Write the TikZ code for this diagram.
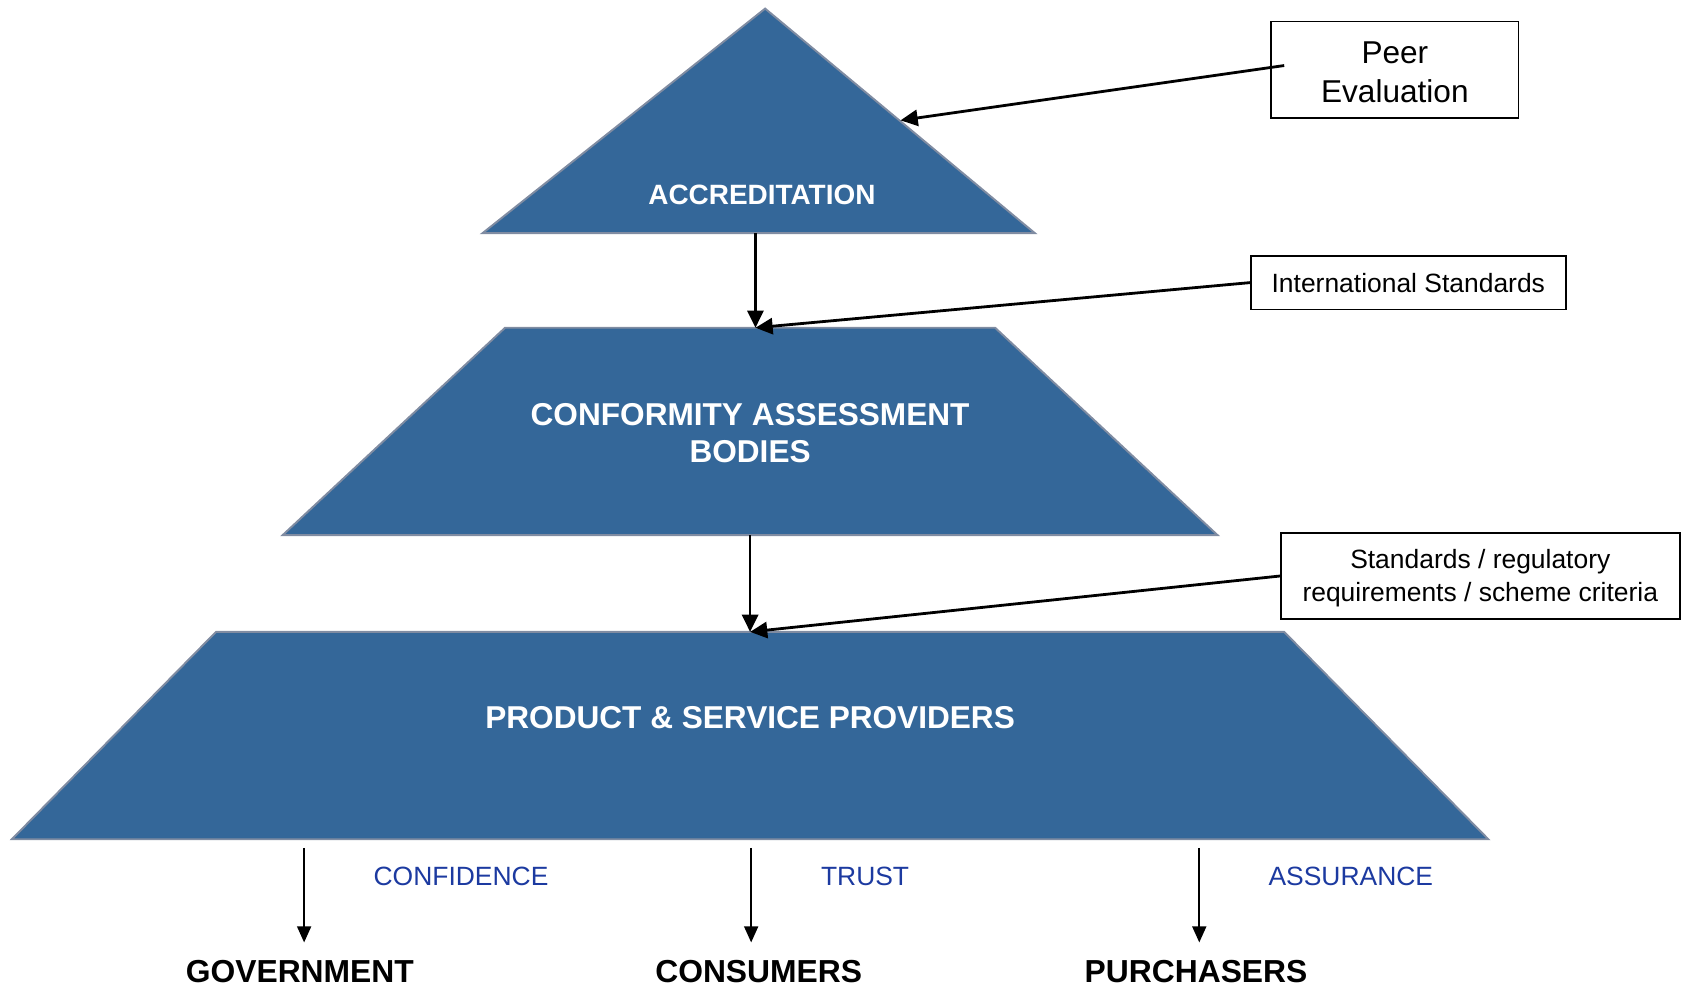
\documentclass[tikz,border=0pt]{standalone}
\usepackage{fontspec}
\setmainfont{Liberation Sans}
\usetikzlibrary{arrows.meta}
\definecolor{bandblue}{RGB}{52,103,153}
\definecolor{bandedge}{RGB}{128,140,162}
\definecolor{labblue}{RGB}{28,58,160}
\tikzset{
  band/.style={fill=bandblue,draw=bandedge,line width=0.9pt,line join=miter},
  bandtext/.style={text=white,font=\bfseries\fontsize{14.7}{17.5}\selectfont,align=center,inner sep=0pt},
  infobox/.style={draw=black,line width=0.8pt,align=center,inner sep=0pt,font=\fontsize{12.3}{15}\selectfont},
  conn/.style={line width=1.3pt,-{Triangle[length=8pt,width=7.5pt]}},
  outconn/.style={line width=0.9pt,-{Triangle[length=7.5pt,width=6.5pt]}},
  benefit/.style={text=labblue,font=\fontsize{12.3}{15}\selectfont,inner sep=0pt},
  party/.style={font=\bfseries\fontsize{14.8}{17}\selectfont,inner sep=0pt}
}
\begin{document}
\begin{tikzpicture}[x=0.5pt,y=-0.5pt]
\useasboundingbox (0,0) rectangle (1568,918.5);
% pyramid bands
\draw[band] (712,8) -- (963,217) -- (449,217) -- cycle;
\draw[band] (470,305) -- (926,305) -- (1133,498) -- (263,498) -- cycle;
\draw[band] (201,588) -- (1195,588) -- (1385,781) -- (11,781) -- cycle;
% band texts
\node[bandtext,font=\bfseries\fontsize{13}{16}\selectfont] (acc) at (709,181) {ACCREDITATION};
\node[bandtext] (cab) at (698,403) {CONFORMITY ASSESSMENT\\BODIES};
\node[bandtext] (psp) at (698,668) {PRODUCT \& SERVICE PROVIDERS};
% side boxes
\node[infobox,minimum width=115pt,minimum height=45pt] (peer) at (1298,65) {};
\node[align=center,inner sep=0pt,font=\fontsize{14.7}{18.3}\selectfont] (peertxt) at (1298,67) {Peer\\Evaluation};
\node[infobox,minimum width=146.5pt,minimum height=25pt] (intl) at (1310.5,263) {International Standards};
\node[infobox,minimum width=185.5pt,minimum height=40pt] (std) at (1377.5,536) {};
\node[align=center,inner sep=0pt,font=\fontsize{12.3}{15}\selectfont] (stdtxt) at (1377.5,538) {Standards / regulatory\\requirements / scheme criteria};
% connector anchors
\coordinate (accR) at (838,112);
\coordinate (accB) at (703,217);
\coordinate (cabT) at (703,305);
\coordinate (cabB) at (698,498);
\coordinate (pspT) at (698,588);
\coordinate (peerIn) at (1195,61);
% connectors
\draw[conn] (peerIn) -- (accR);
\draw[conn] (accB) -- (cabT);
\draw[conn] (intl.west) -- (cabT);
\draw[conn] (cabB) -- (pspT);
\draw[conn] (std.west) -- (pspT);
% outcomes
\node[benefit] (conf) at (429,816) {CONFIDENCE};
\node[benefit] (trust) at (805,816) {TRUST};
\node[benefit] (assur) at (1257,816) {ASSURANCE};
\node[party] (gov) at (279,904) {GOVERNMENT};
\node[party] (cons) at (706,904) {CONSUMERS};
\node[party] (purch) at (1113,904) {PURCHASERS};
\coordinate (g0) at (283,789);
\coordinate (g1) at (283,877);
\coordinate (c0) at (699,789);
\coordinate (c1) at (699,877);
\coordinate (p0) at (1116,789);
\coordinate (p1) at (1116,877);
\draw[outconn] (g0) -- (g1);
\draw[outconn] (c0) -- (c1);
\draw[outconn] (p0) -- (p1);
\end{tikzpicture}
\end{document}
